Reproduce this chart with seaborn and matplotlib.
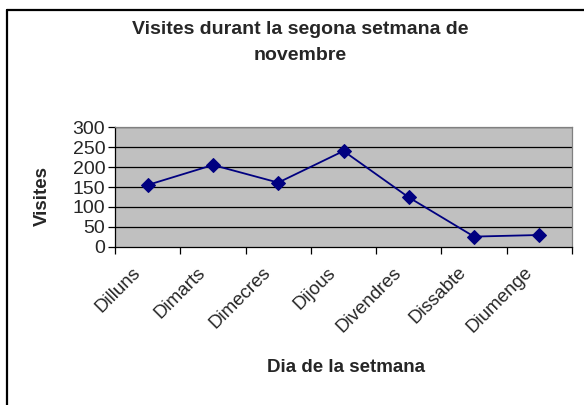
import numpy as np
import pandas as pd
import matplotlib
matplotlib.use("Agg")
import matplotlib.pyplot as plt
import matplotlib.transforms as mtransforms
from matplotlib.lines import Line2D
import seaborn as sns
from matplotlib.ticker import FixedLocator

dies = ['Dilluns', 'Dimarts', 'Dimecres', 'Dijous', 'Divendres', 'Dissabte', 'Diumenge']
visites = [155, 205, 161, 240, 124, 26, 30]
y_ticks = [0, 50, 100, 150, 200, 250, 300]

df = pd.DataFrame({'dia': dies, 'visites': visites})

sns.set_style('white')
plt.rcParams['font.family'] = ['Liberation Sans', 'DejaVu Sans']

W, H = 584, 405
fig = plt.figure(figsize=(W / 100, H / 100), dpi=100)
ax = fig.add_axes([115 / W, 1 - 247 / H, 457 / W, 120 / H])

ax.set_facecolor('#C0C0C0')
for y in y_ticks[1:]:
    ax.axhline(y, color='black', lw=0.9, zorder=1)

sns.lineplot(data=df, x='dia', y='visites', ax=ax, color='#000080', lw=1.3,
             marker='D', markersize=7, markeredgecolor='#000080', zorder=3, sort=False)
ax.set_xlabel('')
ax.set_ylabel('')

ax.set_xlim(-0.5, len(dies) - 0.5)
ax.set_ylim(0, 300)
ax.set_yticks(y_ticks)
ax.set_yticklabels([str(v) for v in y_ticks], fontsize=14)
ax.set_xticks(range(len(dies)))
ax.set_xticklabels([''] * len(dies))

# Excel-style rotated category labels, nudged left/down from the category centre
shift = mtransforms.ScaledTranslation(-16 / 100, -17 / 100, fig.dpi_scale_trans)
for i, d in enumerate(dies):
    ax.text(i, 0, d, transform=ax.get_xaxis_transform() + shift, rotation=45,
            ha='right', va='top', rotation_mode='anchor', fontsize=13.5, clip_on=False)

ax.xaxis.set_minor_locator(FixedLocator(np.arange(-0.5, len(dies), 1)))
ax.tick_params(axis='x', which='major', length=0, pad=0)
ax.tick_params(axis='x', which='minor', length=5, width=0.9, color='black', direction='out', bottom=True)
ax.tick_params(axis='y', which='major', length=5, width=0.9, color='black', direction='out', left=True, pad=2)

for side in ['top', 'right']:
    ax.spines[side].set_color('#808080')
    ax.spines[side].set_linewidth(0.9)
for side in ['left', 'bottom']:
    ax.spines[side].set_color('black')
    ax.spines[side].set_linewidth(0.9)

fig.text(346 / W, 1 - 368 / H, 'Dia de la setmana', ha='center', va='center',
         fontsize=13.5, fontweight='bold')
fig.text(42 / W, 1 - 196 / H, 'Visites', ha='center', va='center', rotation=90,
         fontsize=13.5, fontweight='bold')

fig.text(300 / W, 1 - 30 / H, 'Visites durant la segona setmana de', ha='center', va='center',
         fontsize=14, fontweight='bold')
fig.text(300 / W, 1 - 56 / H, 'novembre', ha='center', va='center',
         fontsize=14, fontweight='bold')

fig.lines.append(Line2D([7 / W, 7 / W], [0, 1 - 10 / H], transform=fig.transFigure, color='black', lw=1.6))
fig.lines.append(Line2D([7 / W, 1], [1 - 10 / H, 1 - 10 / H], transform=fig.transFigure, color='black', lw=1.6))

fig.savefig('out.png', dpi=100)
